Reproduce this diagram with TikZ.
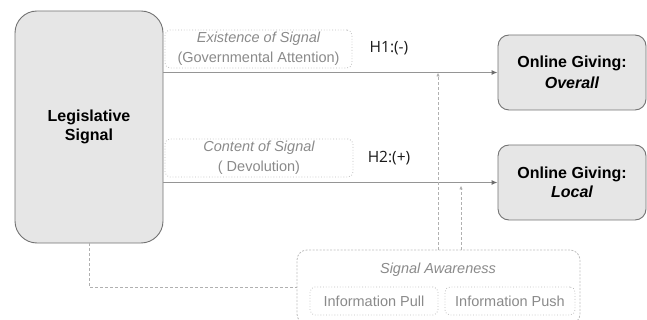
\documentclass[tikz,border=0pt]{standalone}
\usepackage{fontspec}
\setmainfont{Liberation Sans}
\newfontfamily\hfont{Open Sans}
\usetikzlibrary{arrows.meta}
\definecolor{boxfill}{HTML}{E6E6E6}
\definecolor{boxdraw}{HTML}{727272}
\definecolor{labtext}{HTML}{8A8A8A}
\definecolor{dotline}{HTML}{BDBDBD}
\definecolor{arrline}{HTML}{959595}
\definecolor{dashline}{HTML}{B0B0B0}
\definecolor{tipcol}{HTML}{6E6E6E}
\tikzset{
  mainbox/.style={draw=boxdraw, fill=boxfill, line width=0.9pt, align=center, inner sep=0pt,
    font=\fontsize{16}{18.5}\selectfont\bfseries},
  labbox/.style={draw=dotline, dotted, line width=0.8pt, rounded corners=5pt, align=center, inner sep=0pt,
    text=labtext, font=\fontsize{14.5}{20}\selectfont},
  hyp/.style={font=\hfont\fontsize{15.5}{17}\selectfont, text=black!90},
  solidarr/.style={draw=arrline, line width=1.6pt, -{Latex[length=6pt,width=5pt,color=tipcol]}},
  dasharr/.style={draw=dashline, line width=0.8pt, dash pattern=on 3pt off 2pt, -{Latex[length=4pt,width=3.5pt,color=dashline]}},
  dashconn/.style={draw=dashline, line width=0.8pt, dash pattern=on 3pt off 2pt}
}
\begin{document}
\begin{tikzpicture}[x=1pt,y=-1pt]
\useasboundingbox (0,0) rectangle (647,320);
% main boxes
\node[mainbox, rounded corners=22pt, minimum width=148pt, minimum height=232pt] (leg) at (89,127) {Legislative\\Signal};
\node[mainbox, rounded corners=11pt, minimum width=148pt, minimum height=75pt] (over) at (572,72.5) {Online Giving:\\[3pt]\itshape Overall};
\node[mainbox, rounded corners=11pt, minimum width=148pt, minimum height=75pt] (local) at (572,182.5) {Online Giving:\\\itshape Local};
% label boxes
\node[labbox, minimum width=187pt, minimum height=38pt] (lab1) at (258.5,49) {\itshape Existence of Signal\\(Governmental Attention)};
\node[labbox, minimum width=188pt, minimum height=38pt] (lab2) at (259,158) {\itshape Content of Signal\\( Devolution)};
% hypotheses
\node[hyp] (h1) at (389,48) {H1:(-)};
\node[hyp] (h2) at (389,158) {H2:(+)};
% awareness box
\node[labbox, dashed, dash pattern=on 2pt off 1.5pt, rounded corners=10pt, minimum width=283pt, minimum height=74pt] (aware) at (438.5,287) {};
\node[text=labtext, font=\fontsize{14.5}{17}\selectfont\itshape] (awt) at (438,270) {Signal Awareness};
\node[labbox, minimum width=128pt, minimum height=28pt] (pull) at (374,301) {Information Pull};
\node[labbox, minimum width=130pt, minimum height=28pt] (push) at (510,301) {Information Push};
% coordinates
\coordinate (v1) at (438,72.5);
\coordinate (v2) at (461,185.5);
% solid arrows
\draw[solidarr] (leg.east |- over.west) -- (over.west);
\draw[solidarr] (leg.east |- local.west) -- (local.west);
% dashed arrows
\draw[dasharr] (aware.north -| v1) -- (v1);
\draw[dasharr] (aware.north -| v2) -- (v2);
\draw[dashconn] (leg.south) |- (aware.west);
\end{tikzpicture}
\end{document}
